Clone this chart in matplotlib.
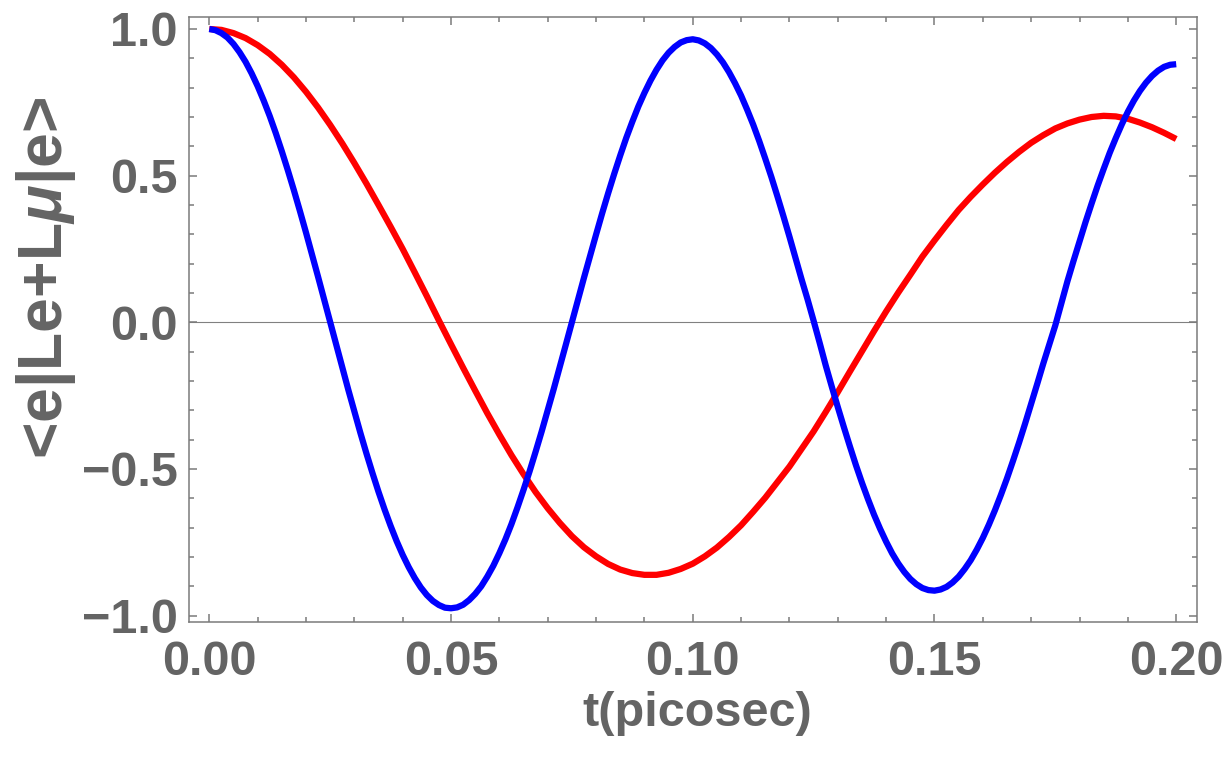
import matplotlib
matplotlib.use("Agg")
import matplotlib.pyplot as plt
from matplotlib.ticker import MultipleLocator

# ---------------- data ----------------
t_red = [0.0000, 0.0025, 0.0050, 0.0075, 0.0100, 0.0125, 0.0150, 0.0175, 0.0200, 0.0225,
         0.0250, 0.0275, 0.0300, 0.0325, 0.0350, 0.0375, 0.0400, 0.0425, 0.0450, 0.0475,
         0.0500, 0.0525, 0.0550, 0.0575, 0.0600, 0.0625, 0.0650, 0.0675, 0.0700, 0.0725,
         0.0750, 0.0775, 0.0800, 0.0825, 0.0850, 0.0875, 0.0900, 0.0925, 0.0950, 0.0975,
         0.1000, 0.1025, 0.1050, 0.1075, 0.1100, 0.1125, 0.1150, 0.1175, 0.1200, 0.1225,
         0.1250, 0.1275, 0.1300, 0.1325, 0.1350, 0.1375, 0.1400, 0.1425, 0.1450, 0.1475,
         0.1500, 0.1525, 0.1550, 0.1575, 0.1600, 0.1625, 0.1650, 0.1675, 0.1700, 0.1725,
         0.1750, 0.1775, 0.1800, 0.1825, 0.1850, 0.1875, 0.1900, 0.1925, 0.1950, 0.1975,
         0.2000]
red = [1.000, 0.997, 0.986, 0.969, 0.945, 0.915, 0.878, 0.835, 0.786, 0.732,
       0.673, 0.610, 0.543, 0.473, 0.400, 0.326, 0.250, 0.170, 0.089, 0.006,
       -0.075, -0.155, -0.233, -0.310, -0.383, -0.453, -0.518, -0.579, -0.634, -0.684,
       -0.729, -0.767, -0.798, -0.824, -0.843, -0.855, -0.861, -0.861, -0.854, -0.841,
       -0.823, -0.798, -0.768, -0.732, -0.692, -0.646, -0.598, -0.545, -0.492, -0.432,
       -0.372, -0.306, -0.238, -0.168, -0.099, -0.030, 0.037, 0.101, 0.162, 0.224,
       0.279, 0.332, 0.383, 0.428, 0.470, 0.510, 0.547, 0.581, 0.612, 0.638,
       0.661, 0.678, 0.691, 0.700, 0.704, 0.702, 0.694, 0.681, 0.665, 0.646,
       0.625]

t_blue = [0.00000, 0.00125, 0.00250, 0.00375, 0.00500, 0.00625, 0.00750, 0.00875, 0.01000, 0.01125,
          0.01250, 0.01375, 0.01500, 0.01625, 0.01750, 0.01875, 0.02000, 0.02125, 0.02250, 0.02375,
          0.02500, 0.02625, 0.02750, 0.02875, 0.03000, 0.03125, 0.03250, 0.03375, 0.03500, 0.03625,
          0.03750, 0.03875, 0.04000, 0.04125, 0.04250, 0.04375, 0.04500, 0.04625, 0.04750, 0.04875,
          0.05000, 0.05125, 0.05250, 0.05375, 0.05500, 0.05625, 0.05750, 0.05875, 0.06000, 0.06125,
          0.06250, 0.06375, 0.06500, 0.06625, 0.06750, 0.06875, 0.07000, 0.07125, 0.07250, 0.07375,
          0.07500, 0.07625, 0.07750, 0.07875, 0.08000, 0.08125, 0.08250, 0.08375, 0.08500, 0.08625,
          0.08750, 0.08875, 0.09000, 0.09125, 0.09250, 0.09375, 0.09500, 0.09625, 0.09750, 0.09875,
          0.10000, 0.10125, 0.10250, 0.10375, 0.10500, 0.10625, 0.10750, 0.10875, 0.11000, 0.11125,
          0.11250, 0.11375, 0.11500, 0.11625, 0.11750, 0.11875, 0.12000, 0.12125, 0.12250, 0.12375,
          0.12500, 0.12625, 0.12750, 0.12875, 0.13000, 0.13125, 0.13250, 0.13375, 0.13500, 0.13625,
          0.13750, 0.13875, 0.14000, 0.14125, 0.14250, 0.14375, 0.14500, 0.14625, 0.14750, 0.14875,
          0.15000, 0.15125, 0.15250, 0.15375, 0.15500, 0.15625, 0.15750, 0.15875, 0.16000, 0.16125,
          0.16250, 0.16375, 0.16500, 0.16625, 0.16750, 0.16875, 0.17000, 0.17125, 0.17250, 0.17375,
          0.17500, 0.17625, 0.17750, 0.17875, 0.18000, 0.18125, 0.18250, 0.18375, 0.18500, 0.18625,
          0.18750, 0.18875, 0.19000, 0.19125, 0.19250, 0.19375, 0.19500, 0.19625, 0.19750, 0.19875,
          0.20000]
blue = [1.000, 0.996, 0.986, 0.971, 0.949, 0.921, 0.888, 0.849, 0.805, 0.756,
        0.703, 0.645, 0.583, 0.518, 0.450, 0.379, 0.306, 0.231, 0.155, 0.078,
        0.000, -0.077, -0.154, -0.230, -0.304, -0.377, -0.447, -0.514, -0.578, -0.638,
        -0.694, -0.746, -0.793, -0.835, -0.872, -0.904, -0.930, -0.950, -0.964, -0.973,
        -0.975, -0.972, -0.963, -0.947, -0.926, -0.900, -0.867, -0.830, -0.787, -0.740,
        -0.688, -0.631, -0.571, -0.508, -0.441, -0.372, -0.300, -0.227, -0.152, -0.076,
        0.000, 0.076, 0.152, 0.226, 0.299, 0.371, 0.440, 0.506, 0.569, 0.629,
        0.684, 0.736, 0.782, 0.824, 0.861, 0.893, 0.919, 0.939, 0.954, 0.962,
        0.965, 0.961, 0.951, 0.935, 0.913, 0.886, 0.853, 0.815, 0.773, 0.725,
        0.674, 0.618, 0.558, 0.496, 0.430, 0.362, 0.292, 0.220, 0.147, 0.078,
        0.005, -0.070, -0.147, -0.219, -0.289, -0.357, -0.423, -0.487, -0.547, -0.603,
        -0.656, -0.704, -0.748, -0.788, -0.822, -0.851, -0.875, -0.893, -0.906, -0.913,
        -0.915, -0.911, -0.902, -0.887, -0.867, -0.841, -0.811, -0.775, -0.735, -0.690,
        -0.641, -0.588, -0.532, -0.472, -0.410, -0.345, -0.278, -0.210, -0.141, -0.075,
        -0.010, 0.065, 0.140, 0.209, 0.276, 0.342, 0.405, 0.466, 0.523, 0.578,
        0.628, 0.675, 0.718, 0.756, 0.789, 0.817, 0.840, 0.858, 0.871, 0.878,
        0.880]

x_ticks = [0.00, 0.05, 0.10, 0.15, 0.20]
x_tick_labels = ["0.00", "0.05", "0.10", "0.15", "0.20"]
y_ticks = [-1.0, -0.5, 0.0, 0.5, 1.0]
y_tick_labels = ["\u22121.0", "\u22120.5", "0.0", "0.5", "1.0"]
x_label = "t(picosec)"
y_label = r"<e|Le+L$\mu$|e>"

# ---------------- style ----------------
plt.rcParams["font.family"] = ["Liberation Sans", "DejaVu Sans"]
plt.rcParams["font.weight"] = "bold"
plt.rcParams["mathtext.fontset"] = "custom"
plt.rcParams["mathtext.it"] = "Liberation Sans:italic:bold"
plt.rcParams["mathtext.rm"] = "Liberation Sans:bold"
plt.rcParams["mathtext.bf"] = "Liberation Sans:bold"

frame_col = "#7a7a7a"
label_col = "#646464"

W, H = 1229, 766
fig = plt.figure(figsize=(W / 100, H / 100), dpi=100)
ax = fig.add_axes([189 / W, 1 - 622 / H, (1197 - 189) / W, (622 - 17) / H])

ax.axhline(0, color="#808080", lw=0.8, zorder=1)
ax.plot(t_red, red, color="#ff0000", lw=4.5, solid_capstyle="butt",
        solid_joinstyle="round", zorder=2)
ax.plot(t_blue, blue, color="#0000ff", lw=4.5, solid_capstyle="butt",
        solid_joinstyle="round", zorder=3)

ax.set_xlim(-0.0042, 0.2043)
ax.set_ylim(-1.0218, 1.0409)

ax.set_xticks(x_ticks)
ax.set_xticklabels(x_tick_labels)
ax.set_yticks(y_ticks)
ax.set_yticklabels(y_tick_labels)
ax.xaxis.set_minor_locator(MultipleLocator(0.01))
ax.yaxis.set_minor_locator(MultipleLocator(0.1))

ax.tick_params(which="both", direction="in", top=True, right=True,
               color=frame_col, width=1.1)
ax.tick_params(which="major", length=6.0, labelsize=35, labelcolor=label_col)
ax.tick_params(which="minor", length=3.3)
ax.tick_params(axis="x", which="major", pad=13)
ax.tick_params(axis="y", which="major", pad=8)
for lab in ax.get_xticklabels() + ax.get_yticklabels():
    lab.set_fontweight("bold")

for sp in ax.spines.values():
    sp.set_color(frame_col)
    sp.set_linewidth(1.1)

fig.text(697 / W, 1 - 713 / H, x_label, ha="center", va="center",
         fontsize=35, color=label_col, fontweight="bold")
fig.text(46 / W, 1 - 278 / H, y_label, ha="center", va="center", rotation=90,
         fontsize=45, color=label_col, fontweight="bold")

fig.savefig("out.png", dpi=100)
